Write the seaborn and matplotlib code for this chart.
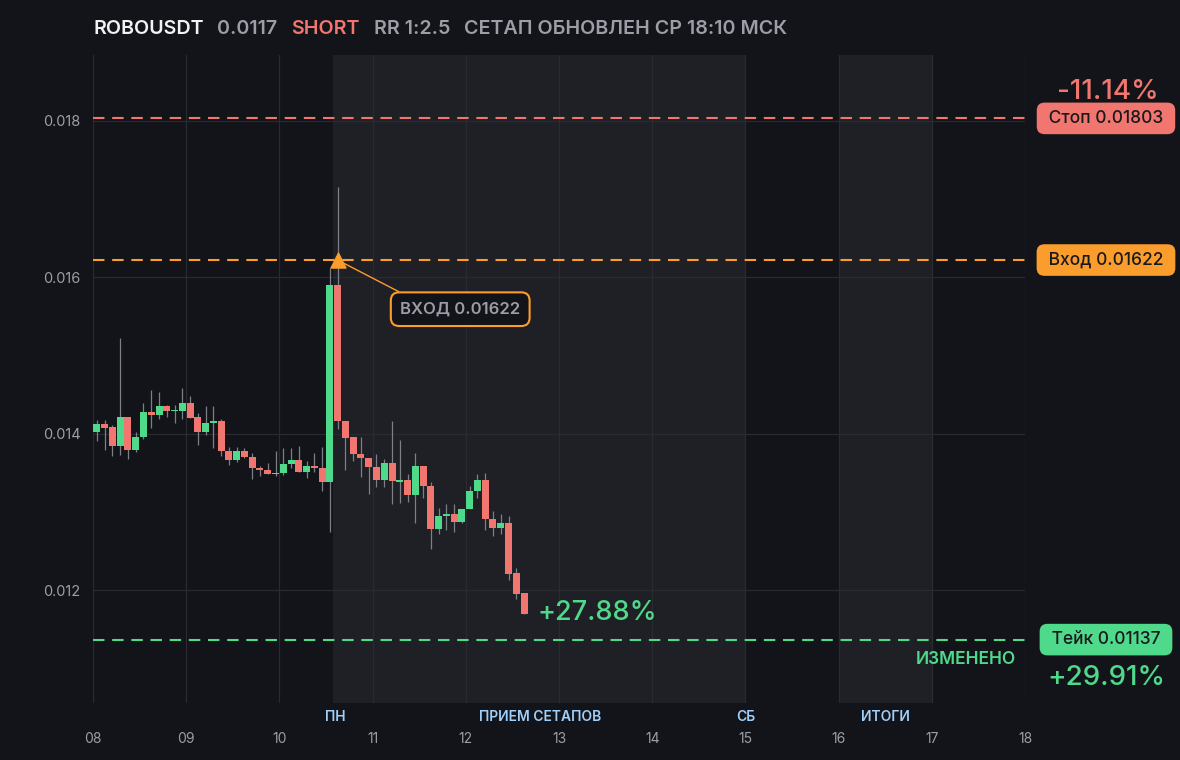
import numpy as np
import pandas as pd
import matplotlib
matplotlib.use("Agg")
import matplotlib.pyplot as plt
import seaborn as sns

# header texts
symbol = "ROBOUSDT"
last_price = "0.0117"
side = "SHORT"
rr_text = "RR 1:2.5"
updated = "СЕТАП ОБНОВЛЕН СР 18:10 МСК"

# 2h candles starting on day 08
start_day = 8
candles_per_day = 12
opens = [0.014017, 0.014127, 0.014089, 0.013839, 0.014217, 0.013788, 0.013953, 0.014280,
         0.014234, 0.014357, 0.014285, 0.014297, 0.014395, 0.014217, 0.014017, 0.014132,
         0.014166, 0.013783, 0.013660, 0.013783, 0.013707, 0.013567, 0.013541, 0.013482,
         0.013494, 0.013609, 0.013669, 0.013507, 0.013592, 0.013567, 0.013380, 0.015900,
         0.014166, 0.013953, 0.013745, 0.013694, 0.013580, 0.013405, 0.013631, 0.013380,
         0.013405, 0.013214, 0.013592, 0.013338, 0.012781, 0.012947, 0.012981, 0.012870,
         0.013036, 0.013265, 0.013414, 0.012917, 0.012794, 0.012854, 0.012217, 0.011962]
highs = [0.014178, 0.014178, 0.014115, 0.015223, 0.014217, 0.014026, 0.014395, 0.014560,
         0.014535, 0.014370, 0.014370, 0.014586, 0.014480, 0.014268, 0.014357, 0.014357,
         0.014190, 0.013826, 0.013826, 0.013813, 0.013758, 0.013592, 0.013622, 0.013783,
         0.013813, 0.013822, 0.013847, 0.013656, 0.013758, 0.013834, 0.016120, 0.017150,
         0.014166, 0.013953, 0.013953, 0.013694, 0.013745, 0.013682, 0.014166, 0.013924,
         0.013490, 0.013758, 0.013592, 0.013389, 0.013057, 0.013108, 0.013108, 0.013045,
         0.013338, 0.013490, 0.013503, 0.013019, 0.012981, 0.012955, 0.012280, 0.011962]
lows = [0.013902, 0.013788, 0.013711, 0.013733, 0.013673, 0.013762, 0.013928, 0.014080,
        0.014183, 0.014220, 0.014132, 0.014183, 0.014208, 0.013851, 0.013979, 0.013813,
        0.013711, 0.013596, 0.013635, 0.013686, 0.013418, 0.013456, 0.013482, 0.013456,
        0.013469, 0.013558, 0.013507, 0.013431, 0.013507, 0.013274, 0.012740, 0.014055,
        0.013533, 0.013652, 0.013444, 0.013227, 0.013316, 0.013316, 0.013100, 0.013112,
        0.013125, 0.012858, 0.013176, 0.012526, 0.012717, 0.012768, 0.012743, 0.012858,
        0.013036, 0.013176, 0.012768, 0.012692, 0.012717, 0.012131, 0.011889, 0.011698]
closes = [0.014127, 0.014080, 0.013839, 0.014217, 0.013788, 0.013962, 0.014280, 0.014234,
          0.014357, 0.014285, 0.014306, 0.014395, 0.014208, 0.014017, 0.014140, 0.014166,
          0.013775, 0.013660, 0.013783, 0.013698, 0.013558, 0.013533, 0.013482, 0.013503,
          0.013618, 0.013669, 0.013507, 0.013592, 0.013558, 0.013380, 0.015900, 0.014160,
          0.013940, 0.013737, 0.013686, 0.013571, 0.013406, 0.013631, 0.013393, 0.013405,
          0.013214, 0.013592, 0.013329, 0.012781, 0.012955, 0.012981, 0.012870, 0.013045,
          0.013274, 0.013414, 0.012909, 0.012794, 0.012854, 0.012208, 0.011953, 0.011698]

# setup levels
stop_price = 0.01803
entry_price = 0.01622
take_price = 0.01137
entry_candle = 31
stop_pct = "-11.14%"
take_pct = "+29.91%"
current_pct = "+27.88%"
take_note = "ИЗМЕНЕНО"

day_ticks = [8, 9, 10, 11, 12, 13, 14, 15, 16, 17, 18]
day_labels = ["08", "09", "10", "11", "12", "13", "14", "15", "16", "17", "18"]
price_ticks = [0.012, 0.014, 0.016, 0.018]
price_labels = ["0.012", "0.014", "0.016", "0.018"]

shaded_spans = [(10.575, 15.0), (16.0, 17.0)]
period_labels = ["ПН", "ПРИЕМ СЕТАПОВ", "СБ", "ИТОГИ"]
period_pos = [10.6, 12.8, 15.0, 16.5]

# colours
BG = "#131419"
SHADE = "#1f2025"
GRID = "#2a2b31"
GREEN = "#4fd98a"
RED = "#f1766f"
ORANGE = "#fa9d2d"
WICK = "#7d7f86"
GREY = "#9b9ea6"
BLUE = "#9fd0fb"

sns.set_theme(style="dark")
plt.rcParams["font.family"] = ["Inter", "DejaVu Sans"]

df = pd.DataFrame({"open": opens, "high": highs, "low": lows, "close": closes})
df["t"] = start_day + (np.arange(len(df)) + 0.5) / candles_per_day
df["up"] = df["close"] >= df["open"]

fig = plt.figure(figsize=(11.8, 7.6), dpi=100, facecolor=BG)
ax = fig.add_axes([93 / 1180, 57 / 760, 932 / 1180, 648 / 760])
ax.set_facecolor(BG)

for a, b in shaded_spans:
    ax.axvspan(a, b, color=SHADE, zorder=0.2, lw=0)

ax.set_xlim(8, 18)
ax.set_ylim(0.01056, 0.01884)
ax.set_xticks(day_ticks, day_labels)
ax.set_yticks(price_ticks, price_labels)
ax.grid(True, color=GRID, lw=0.9)
ax.set_axisbelow(True)
ax.tick_params(axis="both", length=0, colors=GREY, labelsize=10)
ax.tick_params(axis="x", pad=21)
ax.tick_params(axis="y", pad=9, labelsize=10.5)
for s in ax.spines.values():
    s.set_visible(False)

# candles
ax.vlines(df["t"], df["low"], df["high"], color=WICK, lw=0.9, zorder=2)
body_low = df[["open", "close"]].min(axis=1)
body_h = (df["close"] - df["open"]).abs().clip(lower=0.000006)
ax.bar(df["t"], body_h, bottom=body_low, width=0.9 / candles_per_day,
       color=np.where(df["up"], GREEN, RED), lw=0, zorder=3)

# levels
dash = (0, (5.5, 3.7))
ax.axhline(stop_price, color=RED, lw=1.5, ls=dash, zorder=4)
ax.axhline(entry_price, color=ORANGE, lw=1.5, ls=dash, zorder=4)
ax.axhline(take_price, color=GREEN, lw=1.5, ls=dash, zorder=4)

# entry marker and callout
t_entry = df["t"][entry_candle]
sns.scatterplot(x=[t_entry], y=[entry_price], marker="^", s=120, color=ORANGE,
                edgecolor=ORANGE, ax=ax, zorder=6, legend=False)
ax.annotate(f"ВХОД {entry_price:.5f}", xy=(t_entry, entry_price), xytext=(11.94, 0.015592),
            ha="center", va="center", fontsize=12, color=GREY, fontweight="semibold",
            bbox=dict(boxstyle="round,pad=0.56,rounding_size=0.5", fc=BG, ec=ORANGE, lw=1.5),
            arrowprops=dict(arrowstyle="-", color=ORANGE, lw=1, relpos=(0.15, 1),
                            shrinkA=0, shrinkB=5), zorder=7)

# right side badges
ytr = ax.get_yaxis_transform()
bx = 1.0869
for price, name, col in [(stop_price, "Стоп", RED), (entry_price, "Вход", ORANGE),
                         (take_price, "Тейк", GREEN)]:
    ax.text(bx, price, f" {name} {price:.5f} ", transform=ytr, ha="center", va="center",
            fontsize=12.5, color="#18191c", fontweight="medium",
            bbox=dict(boxstyle="round,pad=0.42,rounding_size=0.45", fc=col, ec="none"))

ax.annotate(stop_pct, xy=(bx, stop_price), xycoords=ytr, xytext=(1, 19), textcoords="offset points",
            ha="center", va="center", fontsize=20, color=RED, fontweight="medium")
ax.annotate(take_pct, xy=(bx, take_price), xycoords=ytr, xytext=(0, -28), textcoords="offset points",
            ha="center", va="center", fontsize=20, color=GREEN, fontweight="medium")
ax.annotate(take_note, xy=(0.9903, take_price), xycoords=ytr, xytext=(0, -14.5),
            textcoords="offset points", ha="right", va="center", fontsize=12.5,
            color=GREEN, fontweight="semibold")

# current profit next to the last candle
last = df.iloc[-1]
ax.annotate(current_pct, xy=(last["t"], last["close"]), xytext=(10, 1), textcoords="offset points",
            ha="left", va="center", fontsize=19.5, color=GREEN, fontweight="medium")

# period labels under the axis
xtr = ax.get_xaxis_transform()
for lab, pos in zip(period_labels, period_pos):
    ax.text(pos, -0.0216, lab, transform=xtr, ha="center", va="center",
            fontsize=10, color=BLUE, fontweight="semibold")

# header line
prev = fig.text(93 / 1180, 1 - 29 / 760, symbol, color="#f2f2f4", fontsize=14.2,
                fontweight="semibold", va="center")
for txt, col in [(last_price, GREY), (side, RED), (rr_text, GREY), (updated, GREY)]:
    prev = ax.annotate(txt, xy=(1, 0.5), xycoords=prev, xytext=(10, 0), textcoords="offset points",
                       va="center", ha="left", fontsize=14.2, color=col, fontweight="semibold",
                       annotation_clip=False)

fig.savefig("out.png", dpi=100, facecolor=BG)
